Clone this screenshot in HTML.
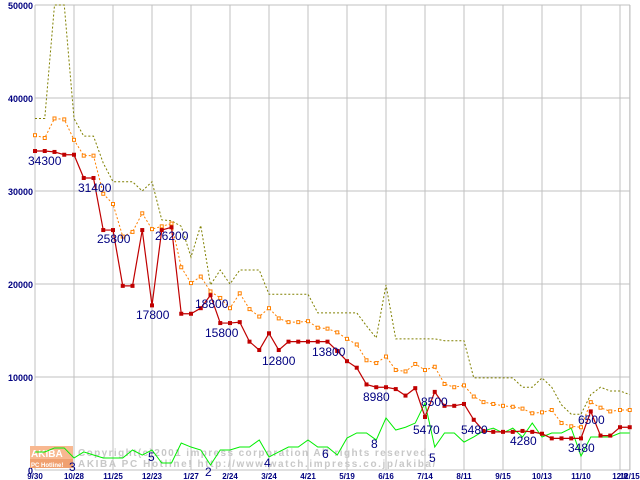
<!DOCTYPE html>
<html><head><meta charset="utf-8"><style>
body{margin:0;background:#fff}
svg{display:block}
text{font-family:"Liberation Sans",sans-serif}
</style></head><body>
<svg id="chart" width="640" height="480" viewBox="0 0 640 480" xmlns="http://www.w3.org/2000/svg"></svg>
<script>
const yTicks=[0,10000,20000,30000,40000,50000];
const xTickLabels=["9/30","10/28","11/25","12/23","1/27","2/24","3/24","4/21","5/19","6/16","7/14","8/11","9/15","10/13","11/10","12/8","12/15"];
const xTickWeeks=[0,4,8,12,16,20,24,28,32,36,40,44,48,52,56,60,61];
const redSeries=[34.3,34.3,34.2,33.9,33.9,31.4,31.4,25.8,25.8,19.8,19.8,25.8,17.7,25.8,26.1,16.8,16.8,17.4,18.8,15.8,15.8,15.9,13.8,12.9,14.7,12.9,13.8,13.8,13.8,13.8,13.8,12.8,11.7,11.0,9.2,8.9,8.9,8.7,8.0,8.8,5.7,8.4,6.9,6.9,7.1,5.4,4.2,4.1,4.1,4.1,4.2,4.1,3.9,3.4,3.4,3.4,3.4,6.3,3.7,3.7,4.6,4.6];
const orangeSeries=[36.0,35.7,37.8,37.7,35.5,33.8,33.8,29.7,28.6,25.1,25.6,27.6,25.9,26.2,26.5,21.8,20.1,20.8,19.2,18.5,17.4,19.0,17.3,16.5,17.4,16.3,15.9,15.9,16.0,15.3,15.2,14.8,14.1,13.5,11.8,11.5,12.2,10.75,10.6,11.4,10.75,11.1,9.25,8.9,9.1,7.9,7.3,7.1,6.9,6.8,6.6,6.1,6.2,6.45,5.05,4.7,4.6,7.3,6.7,6.3,6.45,6.45];
const oliveSeries=[37.8,37.8,50,50,37.8,35.9,35.9,33.0,31.0,31.0,31.0,30.0,31.0,26.9,26.8,26.2,22.9,26.3,19.9,21.5,20.0,21.5,21.5,21.5,18.9,18.9,18.9,18.9,18.9,16.9,16.9,16.9,16.9,16.9,15.5,14.2,19.9,14.1,14.1,14.1,14.1,14.1,13.9,13.9,13.9,9.9,9.9,9.9,9.9,9.9,8.9,8.9,9.9,8.9,7.0,6.0,6.0,8.1,8.9,8.5,8.5,8.1];
const greenSeries=[1.94,1.94,2.37,2.37,1.29,1.94,1.61,1.29,1.29,1.29,2.15,1.61,2.15,0.75,0.75,2.9,2.47,2.15,0.54,2.15,2.15,2.47,2.47,3.23,1.4,1.94,2.47,2.47,3.23,2.47,2.47,1.61,3.44,3.98,3.98,3.23,5.6,4.3,4.6,5.05,7.2,2.47,3.98,3.98,3.0,3.55,4.2,4.5,3.98,4.5,3.55,5.05,3.55,3.98,3.98,4.5,1.5,3.55,3.55,3.55,3.98,3.98];
const priceLabels=["34300","31400","25800","26200","17800","18800","15800","12800","13800","8980","8500","5470","5480","4280","6500","3480"];
const priceLabelX=[28,78,97,155,136,195,205,262,312,363,421,413,461,510,578,568];
const priceLabelY=[165,192,243,240,319,308,337,365,356,401,406,434,434,445,424,452];
const countLabels=["3","5","2","4","6","8","5"];
const countLabelX=[69,148,205,264,322,371,429];
const countLabelY=[471,461,476,467,458,448,462];

const NS="http://www.w3.org/2000/svg";
const svg=document.getElementById('chart');
const X0=35,DX=9.75,Y0=470,KY=9.3;
function xs(w){return X0+w*DX;}
function ys(v){return Y0-v*KY;}
function mk(tag,attrs,parent){const e=document.createElementNS(NS,tag);for(const k in attrs)e.setAttribute(k,attrs[k]);(parent||svg).appendChild(e);return e;}

const grid=mk('g',{});


yTicks.forEach(t=>{
  const y=ys(t/1000);
  const l=mk('line',{x1:X0,x2:630,y1:y,y2:y,stroke:'#c0c0c0','stroke-width':1},grid);
  
  
  const tx=mk('text',{x:33,y:y+4,'text-anchor':'end','font-size':9,'font-weight':'bold',fill:'#000080'},svg);
  
  
  tx.textContent=String(t);
});
xTickWeeks.forEach((w,i)=>{
  const x=xs(w);
  const l=mk('line',{x1:x,x2:x,y1:5,y2:470,stroke:'#c0c0c0','stroke-width':1},grid);
  
  
  const tx=mk('text',{x:x,y:479,'text-anchor':'middle','font-size':8,'font-weight':'bold',fill:'#000080'});
  
  
  tx.textContent=xTickLabels[i];
});
mk('line',{x1:630,x2:630,y1:5,y2:470,stroke:'#c0c0c0'},grid);

const wm=mk('g',{});


mk('rect',{x:30,y:446,width:43,height:13,fill:'#f8b890'},wm);
mk('rect',{x:30,y:459,width:43,height:9,fill:'#f0a070'},wm);
let t1=mk('text',{x:31,y:457,'font-size':10,'font-weight':'bold',fill:'#fff'},wm);t1.textContent='AKIBA';
let t2=mk('text',{x:31,y:467,'font-size':6,'font-weight':'bold',fill:'#fff'},wm);t2.textContent='PC Hotline!';
let t3=mk('text',{x:78,y:456,'font-size':10,'font-weight':'bold',fill:'#c8c8c8','font-family':'Liberation Mono','letter-spacing':'1.4'},wm);t3.textContent='Copyright(c)2001 impress corporation All rights reserved.';
let t4=mk('text',{x:78,y:467,'font-size':10,'font-weight':'bold',fill:'#c8c8c8','font-family':'Liberation Mono','letter-spacing':'1.6'},wm);t4.textContent='AKIBA PC Hotline! http://www.watch.impress.co.jp/akiba/';

function line(data,color,dash,name,width){
  const pts=data.map((v,i)=>xs(i)+','+ys(v)).join(' ');
  const p=mk('polyline',{points:pts,fill:'none',stroke:color,'stroke-width':width||1});
  if(dash)p.setAttribute('stroke-dasharray',dash);
  
  
  return p;
}
line(greenSeries,'#00ee00',null,'shop-count-line',1);
line(oliveSeries,'#808000','2,2','max-price-line',1);
line(orangeSeries,'#ff8000','2,2','avg-price-line',1);
orangeSeries.forEach((v,i)=>{
  const r=mk('rect',{x:xs(i)-1.5,y:ys(v)-1.5,width:3,height:3,fill:'#fff',stroke:'#ff8000','stroke-width':1});
  
  
});
line(redSeries,'#c00000',null,'min-price-line',1.2);
redSeries.forEach((v,i)=>{
  const r=mk('rect',{x:xs(i)-2,y:ys(v)-2,width:4,height:4,fill:'#c00000'});
  
  
});
priceLabels.forEach((s,i)=>{
  const tx=mk('text',{x:priceLabelX[i],y:priceLabelY[i],'font-size':12,fill:'#000080'});
  
  
  tx.textContent=s;
});
countLabels.forEach((s,i)=>{
  const tx=mk('text',{x:countLabelX[i],y:countLabelY[i],'font-size':12,fill:'#000080'});
  
  
  tx.textContent=s;
});
</script>
</body></html>
